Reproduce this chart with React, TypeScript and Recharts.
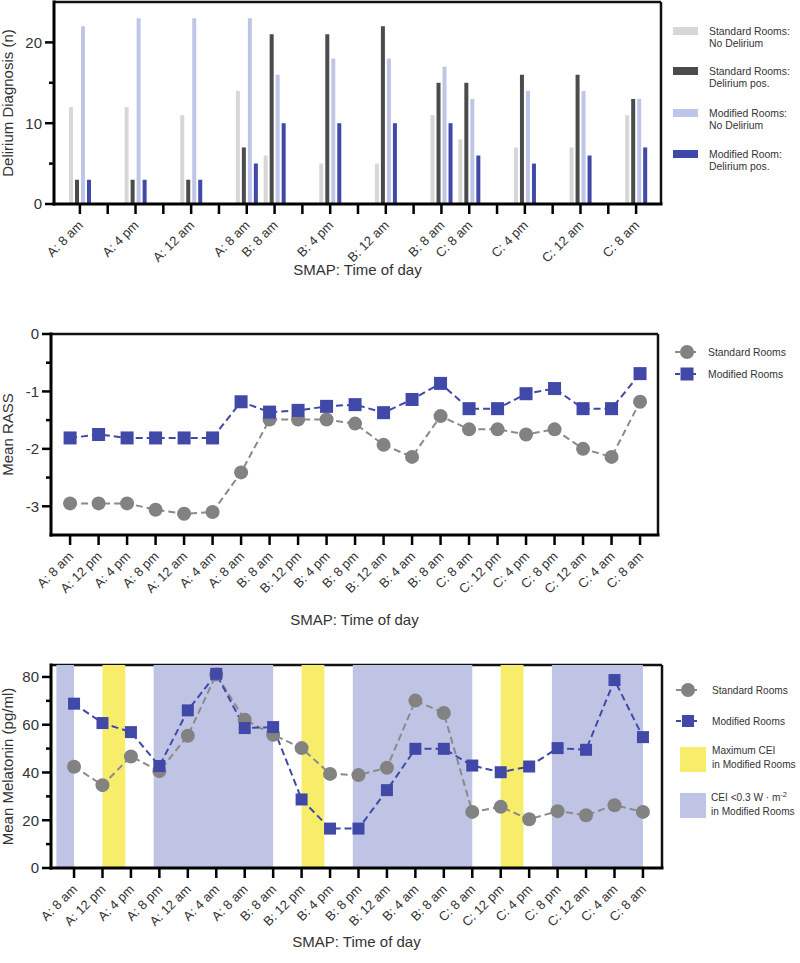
import React from 'react';
import { BarChart, Bar, LineChart, Line, XAxis, YAxis, ReferenceArea, Legend, CartesianGrid } from 'recharts';

const FONT = '"Liberation Sans", Arial, Helvetica, sans-serif';
const TXT = '#333333';

// ---------- Chart 1: delirium diagnosis (bars) ----------
const barCategories = [
  'A: 8 am', '', 'A: 4 pm', '', 'A: 12 am', '', 'A: 8 am', 'B: 8 am', '', 'B: 4 pm', '',
  'B: 12 am', '', 'B: 8 am', 'C: 8 am', '', 'C: 4 pm', '', 'C: 12 am', '', 'C: 8 am',
];
const stdNoDelirium = [12, null, 12, null, 11, null, 14, 6, null, 5, null, 5, null, 11, 8, null, 7, null, 7, null, 11];
const stdDelirium = [3, null, 3, null, 3, null, 7, 21, null, 21, null, 22, null, 15, 15, null, 16, null, 16, null, 13];
const modNoDelirium = [22, null, 23, null, 23, null, 23, 16, null, 18, null, 18, null, 17, 13, null, 14, null, 14, null, 13];
const modDelirium = [3, null, 3, null, 3, null, 5, 10, null, 10, null, 10, null, 10, 6, null, 5, null, 6, null, 7];
const barTicks = [0, 5, 10, 15, 20];
const barMajor = [0, 10, 20];
const barLegendLabels = [
  ['Standard Rooms:', 'No Delirium'],
  ['Standard Rooms:', 'Delirium pos.'],
  ['Modified Rooms:', 'No Delirium'],
  ['Modified Room:', 'Delirium pos.'],
];

// ---------- Chart 2 & 3: time series ----------
const timeLabels = [
  'A: 8 am', 'A: 12 pm', 'A: 4 pm', 'A: 8 pm', 'A: 12 am', 'A: 4 am', 'A: 8 am',
  'B: 8 am', 'B: 12 pm', 'B: 4 pm', 'B: 8 pm', 'B: 12 am', 'B: 4 am', 'B: 8 am',
  'C: 8 am', 'C: 12 pm', 'C: 4 pm', 'C: 8 pm', 'C: 12 am', 'C: 4 am', 'C: 8 am',
];
const rassStandard = [-2.95, -2.95, -2.95, -3.06, -3.13, -3.1, -2.41, -1.49, -1.49, -1.49, -1.56, -1.93, -2.14, -1.43, -1.66, -1.66, -1.75, -1.66, -2.0, -2.14, -1.18];
const rassModified = [-1.81, -1.75, -1.81, -1.81, -1.81, -1.81, -1.18, -1.36, -1.33, -1.26, -1.23, -1.37, -1.14, -0.86, -1.3, -1.3, -1.04, -0.95, -1.3, -1.3, -0.69];
const rassTicks = [0, -0.5, -1, -1.5, -2, -2.5, -3];
const rassMajor = [0, -1, -2, -3];

const melStandard = [42.4, 34.7, 46.7, 40.6, 55.4, 81.0, 62.1, 55.8, 50.2, 39.4, 38.9, 42.0, 70.1, 64.9, 23.5, 25.6, 20.4, 23.8, 22.1, 26.3, 23.5];
const melModified = [68.8, 60.7, 56.9, 42.7, 66.0, 81.3, 58.6, 59.0, 28.7, 16.5, 16.5, 32.6, 49.9, 49.9, 42.9, 40.1, 42.5, 50.2, 49.5, 78.7, 54.8];
const melTicks = [0, 10, 20, 30, 40, 50, 60, 70, 80];
const melMajor = [0, 20, 40, 60, 80];
const yellowBands = [[1, 1.8], [8, 8.8], [15, 15.8]];
const lavenderBands = [[-0.62, 0], [2.8, 7], [9.8, 14], [16.8, 20]];

const idxTicks = timeLabels.map((_, i) => i);

const barData = barCategories.map((label, i) => ({
  key: i,
  label,
  snd: stdNoDelirium[i],
  sdp: stdDelirium[i],
  mnd: modNoDelirium[i],
  mdp: modDelirium[i],
}));
const rassData = timeLabels.map((label, i) => ({ i, label, std: rassStandard[i], mod: rassModified[i] }));
const melData = timeLabels.map((label, i) => ({ i, label, std: melStandard[i], mod: melModified[i] }));

const C_LGRAY = '#d5d8d7';
const C_DGRAY = '#4b4b4b';
const C_LBLUE = '#bfc5e8';
const C_BLUE = '#4048a8';
const C_PT_GRAY = '#828282';
const C_LINE_GRAY = '#8a8a8a';
const C_LAV = '#c0c4e4';
const C_YEL = '#f8ed6b';
const DASH = '7 4';

const AXIS = { stroke: '#000', strokeWidth: 3, strokeLinecap: 'square' as const };

function YTick(props: any) {
  const { x, y, payload, majors } = props;
  const v = payload.value;
  const major = majors.includes(v);
  const len = major ? 9 : 5;
  return (
    <g>
      <line x1={x} x2={x - len} y1={y} y2={y} stroke="#000" strokeWidth={2.5} />
      {major && (
        <text x={x - len - 3} y={y} dy="0.36em" textAnchor="end" fontSize={15} fill={TXT} fontFamily={FONT}>
          {String(v)}
        </text>
      )}
    </g>
  );
}

function XTick(props: any) {
  const { x, y, payload, labels } = props;
  const label = labels[payload.value] ?? '';
  const tx = x + 4;
  const ty = y + 22;
  return (
    <g>
      <line x1={x} x2={x} y1={y} y2={y + 10} stroke="#000" strokeWidth={2.5} />
      {label && (
        <text x={tx} y={ty} transform={`rotate(-45 ${tx} ${ty})`} textAnchor="end" fontSize={13} fill={TXT} fontFamily={FONT}>
          {label}
        </text>
      )}
    </g>
  );
}

const txt = { fontSize: 10.4, fill: TXT, fontFamily: FONT };

function BarLegend() {
  const colors = [C_LGRAY, C_DGRAY, C_LBLUE, C_BLUE];
  const ys = [31, 71, 113, 154];
  return (
    <svg width={800} height={290}>
      {barLegendLabels.map((lines, k) => (
        <g key={k}>
          <rect x={673} y={ys[k] - 4} width={25} height={8} fill={colors[k]} />
          <text x={709} y={ys[k]} dy="0.35em" {...txt}>{lines[0]}</text>
          <text x={709} y={ys[k] + 12.5} dy="0.35em" {...txt}>{lines[1]}</text>
        </g>
      ))}
    </svg>
  );
}

function LineMarker({ x, y, kind, r }: any) {
  const color = kind === 'circle' ? C_LINE_GRAY : C_BLUE;
  return (
    <g>
      <line x1={x - 12} x2={x + 12} y1={y} y2={y} stroke={color} strokeWidth={2} strokeDasharray="5 3" />
      {kind === 'circle' ? (
        <circle cx={x} cy={y} r={r} fill={C_PT_GRAY} />
      ) : (
        <rect x={x - r} y={y - r} width={2 * r} height={2 * r} fill={C_BLUE} />
      )}
    </g>
  );
}

function RassLegend() {
  return (
    <svg width={800} height={330}>
      <LineMarker x={687} y={52} kind="circle" r={7} />
      <text x={708} y={52} dy="0.35em" {...txt}>Standard Rooms</text>
      <LineMarker x={687} y={74} kind="square" r={6.5} />
      <text x={708} y={74} dy="0.35em" {...txt}>Modified Rooms</text>
    </svg>
  );
}

function MelLegend() {
  const t = { ...txt, fontSize: 10.1 };
  return (
    <svg width={800} height={333}>
      <LineMarker x={688} y={60} kind="circle" r={7} />
      <text x={712} y={60} dy="0.35em" {...t}>Standard Rooms</text>
      <LineMarker x={688} y={91} kind="square" r={6} />
      <text x={712} y={91} dy="0.35em" {...t}>Modified Rooms</text>
      <rect x={680} y={117} width={26} height={25} fill={C_YEL} />
      <text x={712} y={120} dy="0.35em" {...t}>Maximum CEI</text>
      <text x={712} y={134} dy="0.35em" {...t}>in Modified Rooms</text>
      <rect x={680} y={163} width={26} height={25} fill={C_LAV} />
      <text x={711} y={167} dy="0.35em" {...t}>
        CEI {'<'}0.3 W · m<tspan dy={-4} fontSize={7.5}>-2</tspan>
      </text>
      <text x={711} y={181} dy="0.35em" {...t}>in Modified Rooms</text>
    </svg>
  );
}

const squareDot = (size: number) => (p: any) => {
  if (p.cx == null || p.cy == null) return <g key={p.index} />;
  return <rect key={p.index} x={p.cx - size / 2} y={p.cy - size / 2} width={size} height={size} fill={C_BLUE} />;
};
const circleDot = (r: number) => (p: any) => {
  if (p.cx == null || p.cy == null) return <g key={p.index} />;
  return <circle key={p.index} cx={p.cx} cy={p.cy} r={r} fill={C_PT_GRAY} />;
};

const yLabel = (value: string, offset: number) => ({
  value,
  angle: -90,
  position: 'insideLeft' as const,
  offset,
  style: { textAnchor: 'middle' as const, fontSize: 15, fill: TXT, fontFamily: FONT },
});
const xLabel = (offset: number) => ({
  value: 'SMAP: Time of day',
  position: 'insideBottom' as const,
  offset,
  style: { fontSize: 15, fill: TXT, fontFamily: FONT },
});

// Frame (top and right border of the plot area) drawn through the grid
const Frame = () => (
  <CartesianGrid
    stroke="#111"
    strokeWidth={2.5}
    strokeDasharray=""
    fill="none"
    horizontalCoordinatesGenerator={(p: any) => [p.offset.top]}
    verticalCoordinatesGenerator={(p: any) => [p.offset.left + p.offset.width]}
  />
);

export default function App() {
  return (
    <div style={{ position: 'absolute', left: 0, top: 0, width: 800, height: 963, background: '#fff' }}>
      {/* Chart 1 */}
      <div style={{ position: 'absolute', left: 0, top: 0 }}>
        <BarChart width={800} height={290} data={barData} margin={{ top: 2, right: 139, bottom: 0, left: 0 }} barSize={4} barGap={2}>
          {Frame()}
          <XAxis
            dataKey="key"
            type="category"
            height={86}
            interval={0}
            tickLine={false}
            tickSize={0}
            tickMargin={0}
            padding={{ left: 12, right: 11 }}
            axisLine={AXIS}
            tick={(p: any) => <XTick {...p} labels={barCategories} />}
            label={xLabel(14.6)}
          />
          <YAxis
            width={54}
            domain={[0, 25]}
            ticks={barTicks}
            interval={0}
            tickLine={false}
            tickSize={0}
            tickMargin={0}
            axisLine={AXIS}
            tick={(p: any) => <YTick {...p} majors={barMajor} />}
            label={yLabel('Delirium Diagnosis (n)', 8)}
          />
          <Bar dataKey="snd" fill={C_LGRAY} isAnimationActive={false} />
          <Bar dataKey="sdp" fill={C_DGRAY} isAnimationActive={false} />
          <Bar dataKey="mnd" fill={C_LBLUE} isAnimationActive={false} />
          <Bar dataKey="mdp" fill={C_BLUE} isAnimationActive={false} />
          <Legend
            layout="horizontal"
            verticalAlign="middle"
            align="center"
            wrapperStyle={{ left: 0, top: 0, width: 800, height: 290, pointerEvents: 'none' }}
            content={() => <BarLegend />}
          />
        </BarChart>
      </div>

      {/* Chart 2 */}
      <div style={{ position: 'absolute', left: 0, top: 300 }}>
        <LineChart width={800} height={330} data={rassData} margin={{ top: 34, right: 142, bottom: 0, left: 0 }}>
          {Frame()}
          <XAxis
            dataKey="i"
            type="number"
            domain={[-0.67, 20.63]}
            ticks={idxTicks}
            interval={0}
            height={95}
            tickLine={false}
            tickSize={0}
            tickMargin={0}
            axisLine={AXIS}
            tick={(p: any) => <XTick {...p} labels={timeLabels} />}
            label={xLabel(4.6)}
          />
          <YAxis
            width={51}
            domain={[-3.5, 0]}
            ticks={rassTicks}
            interval={0}
            tickLine={false}
            tickSize={0}
            tickMargin={0}
            axisLine={AXIS}
            tick={(p: any) => <YTick {...p} majors={rassMajor} />}
            label={yLabel('Mean RASS', 8)}
          />
          <Line dataKey="std" stroke={C_LINE_GRAY} strokeWidth={2} strokeDasharray={DASH} dot={circleDot(7)} isAnimationActive={false} />
          <Line dataKey="mod" stroke={C_BLUE} strokeWidth={2} strokeDasharray={DASH} dot={squareDot(13)} isAnimationActive={false} />
          <Legend
            layout="horizontal"
            verticalAlign="middle"
            align="center"
            wrapperStyle={{ left: 0, top: 0, width: 800, height: 330, pointerEvents: 'none' }}
            content={() => <RassLegend />}
          />
        </LineChart>
      </div>

      {/* Chart 3 */}
      <div style={{ position: 'absolute', left: 0, top: 630 }}>
        <LineChart width={800} height={333} data={melData} margin={{ top: 35, right: 138, bottom: 0, left: 0 }}>
          {lavenderBands.map(([a, b], k) => (
            <ReferenceArea key={'l' + k} x1={a} x2={b} fill={C_LAV} fillOpacity={1} stroke="none" ifOverflow="visible" />
          ))}
          {yellowBands.map(([a, b], k) => (
            <ReferenceArea key={'y' + k} x1={a} x2={b} fill={C_YEL} fillOpacity={1} stroke="none" ifOverflow="visible" />
          ))}
          {Frame()}
          <XAxis
            dataKey="i"
            type="number"
            domain={[-0.81, 20.67]}
            ticks={idxTicks}
            interval={0}
            height={95}
            tickLine={false}
            tickSize={0}
            tickMargin={0}
            axisLine={AXIS}
            tick={(p: any) => <XTick {...p} labels={timeLabels} />}
            label={xLabel(15.6)}
          />
          <YAxis
            width={51}
            domain={[0, 85]}
            ticks={melTicks}
            interval={0}
            tickLine={false}
            tickSize={0}
            tickMargin={0}
            axisLine={AXIS}
            tick={(p: any) => <YTick {...p} majors={melMajor} />}
            label={yLabel('Mean Melatonin (pg/ml)', 8)}
          />
          <Line dataKey="std" stroke={C_LINE_GRAY} strokeWidth={2} strokeDasharray={DASH} dot={circleDot(7)} isAnimationActive={false} />
          <Line dataKey="mod" stroke={C_BLUE} strokeWidth={2} strokeDasharray={DASH} dot={squareDot(12)} isAnimationActive={false} />
          <Legend
            layout="horizontal"
            verticalAlign="middle"
            align="center"
            wrapperStyle={{ left: 0, top: 0, width: 800, height: 333, pointerEvents: 'none' }}
            content={() => <MelLegend />}
          />
        </LineChart>
      </div>
    </div>
  );
}
